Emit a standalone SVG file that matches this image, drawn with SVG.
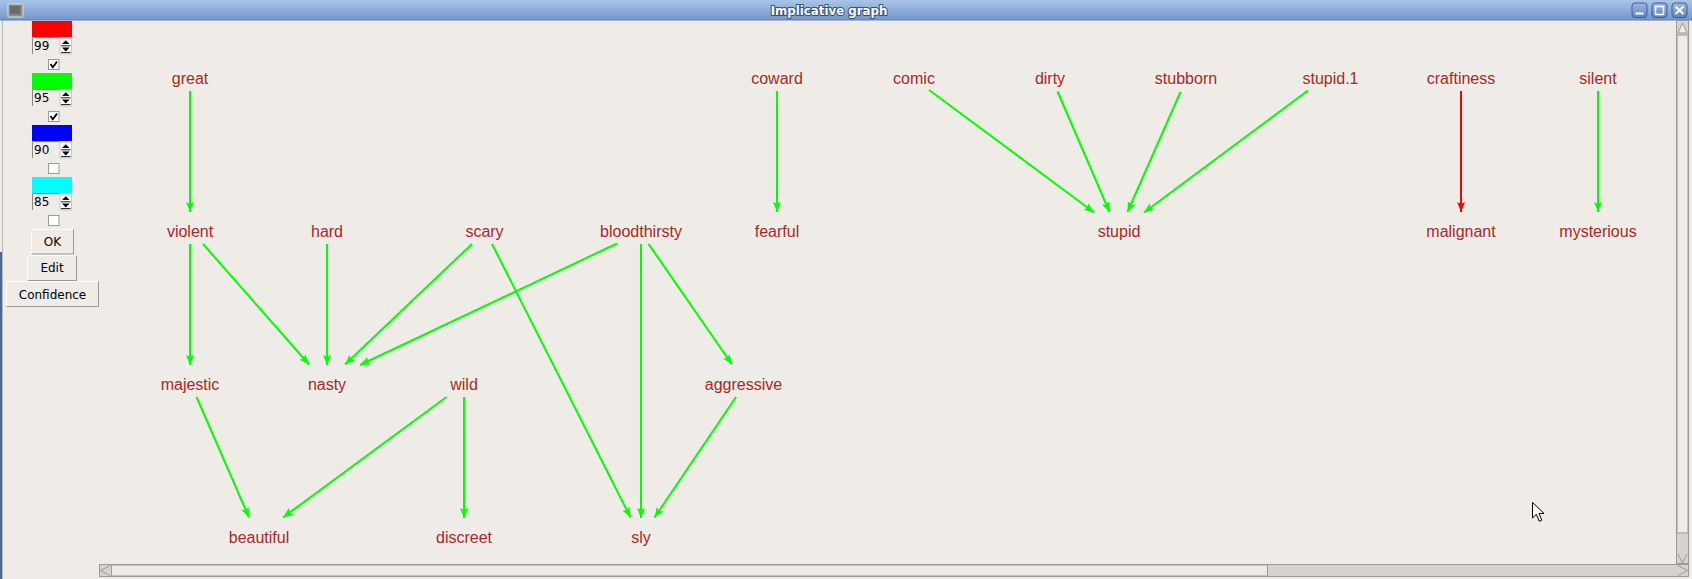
<svg xmlns="http://www.w3.org/2000/svg" width="1692" height="579" viewBox="0 0 1692 579">
<defs>
<linearGradient id="tb" x1="0" y1="0" x2="0" y2="1">
<stop offset="0" stop-color="#a9c4e8"/>
<stop offset="1" stop-color="#7396cc"/>
</linearGradient>
<linearGradient id="wb" x1="0" y1="0" x2="0" y2="1">
<stop offset="0" stop-color="#9db8e0"/>
<stop offset="1" stop-color="#5f84bf"/>
</linearGradient>
<marker id="ag" markerUnits="userSpaceOnUse" markerWidth="12" markerHeight="10" refX="10" refY="4" orient="auto" viewBox="0 0 12 10">
<path d="M0,0 L10,4 L0,8 L2,4 z" fill="#00ff00"/>
</marker>
<marker id="ar" markerUnits="userSpaceOnUse" markerWidth="12" markerHeight="10" refX="10" refY="4" orient="auto" viewBox="0 0 12 10">
<path d="M0,0 L10,4 L0,8 L2,4 z" fill="#ff0000"/>
</marker>
</defs>
<style>
.node text{font-family:"Liberation Sans",Arial,sans-serif;font-size:16px;fill:#a52a2a;text-anchor:middle}
.e{stroke:#00ff00;stroke-width:2;fill:none;marker-end:url(#ag)}
.er{stroke:#ff0000;stroke-width:2;fill:none;marker-end:url(#ar)}
.ui{font-family:"DejaVu Sans",sans-serif;font-size:12px;fill:#000}
.btn{fill:#efebe7;stroke:#9a9a9a;stroke-width:1}
.cb{fill:#ffffff;stroke:#9a9a9a;stroke-width:1}
.ent{fill:#efebe7;stroke:none}
</style>
<!-- background -->
<rect x="0" y="0" width="1692" height="579" fill="#efebe7"/>
<rect x="0" y="252" width="2" height="327" fill="#4a6890"/>
<rect x="2" y="20" width="1" height="559" fill="#b8b8b8"/>
<!-- title bar -->
<g id="titlebar">
<rect x="0" y="0" width="1692" height="20" fill="url(#tb)"/>
<rect x="0" y="19.5" width="1692" height="1" fill="#5c7fb5"/>
<rect x="8" y="4" width="15" height="13" rx="1" fill="#8a8a8a" stroke="#e0e0e0" stroke-width="1"/>
<rect x="10" y="6" width="10" height="8" fill="#6c6c6c"/>
<text x="829" y="14.5" font-family="DejaVu Sans,sans-serif" font-size="11.8" font-weight="bold" fill="#33507f" text-anchor="middle" stroke="#33507f" stroke-width="2" stroke-linejoin="round">Implicative graph</text>
<text x="829" y="14.5" font-family="DejaVu Sans,sans-serif" font-size="11.8" font-weight="bold" fill="#ffffff" text-anchor="middle">Implicative graph</text>
<rect x="1632" y="3" width="15" height="14.5" rx="3" fill="url(#wb)" stroke="#3f5f93" stroke-width="1"/>
<rect x="1652" y="3" width="15" height="14.5" rx="3" fill="url(#wb)" stroke="#3f5f93" stroke-width="1"/>
<rect x="1672" y="3" width="15" height="14.5" rx="3" fill="url(#wb)" stroke="#3f5f93" stroke-width="1"/>
<rect x="1635.5" y="12.5" width="8" height="2" fill="#ffffff"/>
<rect x="1655.5" y="6.5" width="8" height="8" fill="none" stroke="#ffffff" stroke-width="1.5"/>
<path d="M1675.5,6.5 L1683.5,14 M1683.5,6.5 L1675.5,14" stroke="#ffffff" stroke-width="2"/>
</g>
<!-- left panel -->
<g id="panel">
<rect x="32" y="21" width="40" height="16" fill="#ff0000"/>
<rect x="32" y="73" width="40" height="16" fill="#00ff00"/>
<rect x="32" y="125" width="40" height="16" fill="#0000ff"/>
<rect x="32" y="177" width="40" height="16" fill="#00ffff"/>
<g id="spin1">
<path d="M32.5,54 L32.5,37.5 L59.5,37.5" fill="none" stroke="#8a8a8a"/>
<rect x="60" y="38" width="11.5" height="16" fill="#ffffff" stroke="#bdbdbd" stroke-width="0.8"/>
<path d="M62,44 L65.8,40.2 L69.6,44 z M62,47.6 L65.8,51.4 L69.6,47.6 z" fill="#000"/>
<path d="M61,45.8 L70.6,45.8 M61,52.6 L70.6,52.6" stroke="#000" stroke-width="0.9"/>
<text class="ui" x="34" y="49.5">99</text>
</g>
<g id="spin2">
<path d="M32.5,106 L32.5,89.5 L59.5,89.5" fill="none" stroke="#8a8a8a"/>
<rect x="60" y="90" width="11.5" height="16" fill="#ffffff" stroke="#bdbdbd" stroke-width="0.8"/>
<path d="M62,96 L65.8,92.2 L69.6,96 z M62,99.6 L65.8,103.4 L69.6,99.6 z" fill="#000"/>
<path d="M61,97.8 L70.6,97.8 M61,104.6 L70.6,104.6" stroke="#000" stroke-width="0.9"/>
<text class="ui" x="34" y="101.5">95</text>
</g>
<g id="spin3">
<path d="M32.5,158 L32.5,141.5 L59.5,141.5" fill="none" stroke="#8a8a8a"/>
<rect x="60" y="142" width="11.5" height="16" fill="#ffffff" stroke="#bdbdbd" stroke-width="0.8"/>
<path d="M62,148 L65.8,144.2 L69.6,148 z M62,151.6 L65.8,155.4 L69.6,151.6 z" fill="#000"/>
<path d="M61,149.8 L70.6,149.8 M61,156.6 L70.6,156.6" stroke="#000" stroke-width="0.9"/>
<text class="ui" x="34" y="153.5">90</text>
</g>
<g id="spin4">
<path d="M32.5,210 L32.5,193.5 L59.5,193.5" fill="none" stroke="#8a8a8a"/>
<rect x="60" y="194" width="11.5" height="16" fill="#ffffff" stroke="#bdbdbd" stroke-width="0.8"/>
<path d="M62,200 L65.8,196.2 L69.6,200 z M62,203.6 L65.8,207.4 L69.6,203.6 z" fill="#000"/>
<path d="M61,201.8 L70.6,201.8 M61,208.6 L70.6,208.6" stroke="#000" stroke-width="0.9"/>
<text class="ui" x="34" y="205.5">85</text>
</g>
<rect class="cb" x="48.5" y="59.5" width="10.5" height="10"/>
<path d="M50.5,64 L52.8,67.2 L57,61.6" fill="none" stroke="#000" stroke-width="1.8"/>
<rect class="cb" x="48.5" y="111.5" width="10.5" height="10"/>
<path d="M50.5,116 L52.8,119.2 L57,113.6" fill="none" stroke="#000" stroke-width="1.8"/>
<rect class="cb" x="48.5" y="163.5" width="10.5" height="10"/>
<rect class="cb" x="48.5" y="215.5" width="10.5" height="10"/>
<g id="btn-ok">
<rect class="btn" x="31.5" y="229.5" width="42" height="24.5"/>
<path d="M31.5,254 L31.5,229.5 L73.5,229.5" fill="none" stroke="#ffffff"/>
<text class="ui" x="52.5" y="246" text-anchor="middle">OK</text>
</g>
<g id="btn-edit">
<rect class="btn" x="27.5" y="255.5" width="49" height="25"/>
<path d="M27.5,280.5 L27.5,255.5 L76.5,255.5" fill="none" stroke="#ffffff"/>
<text class="ui" x="52" y="272" text-anchor="middle">Edit</text>
</g>
<g id="btn-confidence">
<rect class="btn" x="6.5" y="281.5" width="92" height="25"/>
<path d="M6.5,306.5 L6.5,281.5 L98.5,281.5" fill="none" stroke="#ffffff"/>
<text class="ui" x="52.5" y="298.5" text-anchor="middle">Confidence</text>
</g>
</g>
<!-- scrollbars -->
<g id="scrollbars">
<rect x="1676.5" y="20.5" width="12" height="543" fill="#d6d3ce" stroke="#9a9a9a"/>
<rect x="1677" y="35" width="11" height="498" fill="#efebe7" stroke="#9a9a9a"/>
<path d="M1678,33 L1682.5,23 L1687,33 z" fill="#efebe7" stroke="#9a9a9a"/>
<path d="M1678,554 L1682.5,563 L1687,554" fill="none" stroke="#9a9a9a"/>
<rect x="99.5" y="564.5" width="1589" height="12" fill="#d6d3ce" stroke="#9a9a9a"/>
<rect x="111.5" y="565" width="1156" height="11" fill="#efebe7" stroke="#9a9a9a"/>
<path d="M110,565.5 L100.5,570.5 L110,575.5" fill="none" stroke="#9a9a9a"/>
<path d="M1678,565.5 L1687.5,570.5 L1678,575.5" fill="none" stroke="#9a9a9a"/>
</g>
<!-- connectors -->
<g id="connectors">
<line class="e" x1="190" y1="91" x2="190" y2="212"/>
<line class="e" x1="777" y1="91" x2="777" y2="212"/>
<line class="e" x1="929" y1="90" x2="1094" y2="212.5"/>
<line class="e" x1="1057.5" y1="91.5" x2="1109.5" y2="212"/>
<line class="e" x1="1180.5" y1="92" x2="1127.5" y2="212"/>
<line class="e" x1="1308" y1="90.5" x2="1144" y2="212.5"/>
<line class="er" x1="1461" y1="91" x2="1461" y2="212"/>
<line class="e" x1="1598" y1="91" x2="1598" y2="212"/>
<line class="e" x1="190" y1="244" x2="190" y2="365"/>
<line class="e" x1="203" y1="244" x2="309" y2="364.5"/>
<line class="e" x1="327" y1="244" x2="327" y2="365"/>
<line class="e" x1="472" y1="244" x2="345" y2="364.5"/>
<line class="e" x1="617" y1="243.5" x2="360" y2="365"/>
<line class="e" x1="492" y1="244" x2="630.5" y2="517.5"/>
<line class="e" x1="641" y1="244" x2="641" y2="518"/>
<line class="e" x1="648.5" y1="244" x2="732" y2="364.5"/>
<line class="e" x1="196.5" y1="397" x2="249" y2="517.5"/>
<line class="e" x1="446.5" y1="397" x2="283" y2="517.5"/>
<line class="e" x1="464" y1="397" x2="464" y2="518"/>
<line class="e" x1="736" y1="397" x2="654.5" y2="517.5"/>
</g>
<!-- nodes -->
<g id="n-great" class="node"><text x="190" y="84">great</text></g>
<g id="n-coward" class="node"><text x="777" y="84">coward</text></g>
<g id="n-comic" class="node"><text x="914" y="84">comic</text></g>
<g id="n-dirty" class="node"><text x="1050" y="84">dirty</text></g>
<g id="n-stubborn" class="node"><text x="1186" y="84">stubborn</text></g>
<g id="n-stupid1" class="node"><text x="1330.5" y="84">stupid.1</text></g>
<g id="n-craftiness" class="node"><text x="1461" y="84">craftiness</text></g>
<g id="n-silent" class="node"><text x="1598" y="84">silent</text></g>
<g id="n-violent" class="node"><text x="190" y="237">violent</text></g>
<g id="n-hard" class="node"><text x="327" y="237">hard</text></g>
<g id="n-scary" class="node"><text x="484.5" y="237">scary</text></g>
<g id="n-bloodthirsty" class="node"><text x="641" y="237">bloodthirsty</text></g>
<g id="n-fearful" class="node"><text x="777" y="237">fearful</text></g>
<g id="n-stupid" class="node"><text x="1119" y="237">stupid</text></g>
<g id="n-malignant" class="node"><text x="1461" y="237">malignant</text></g>
<g id="n-mysterious" class="node"><text x="1598" y="237">mysterious</text></g>
<g id="n-majestic" class="node"><text x="190" y="390">majestic</text></g>
<g id="n-nasty" class="node"><text x="327" y="390">nasty</text></g>
<g id="n-wild" class="node"><text x="464" y="390">wild</text></g>
<g id="n-aggressive" class="node"><text x="743.5" y="390">aggressive</text></g>
<g id="n-beautiful" class="node"><text x="259" y="543">beautiful</text></g>
<g id="n-discreet" class="node"><text x="464" y="543">discreet</text></g>
<g id="n-sly" class="node"><text x="641" y="543">sly</text></g>
<!-- mouse cursor -->
<path d="M1532.5,502.5 L1532.5,518 L1536.3,514.3 L1539.3,521.3 L1541.8,520.2 L1538.9,513.4 L1544,513.4 z" fill="#ffffff" stroke="#000000" stroke-width="1"/>
</svg>
